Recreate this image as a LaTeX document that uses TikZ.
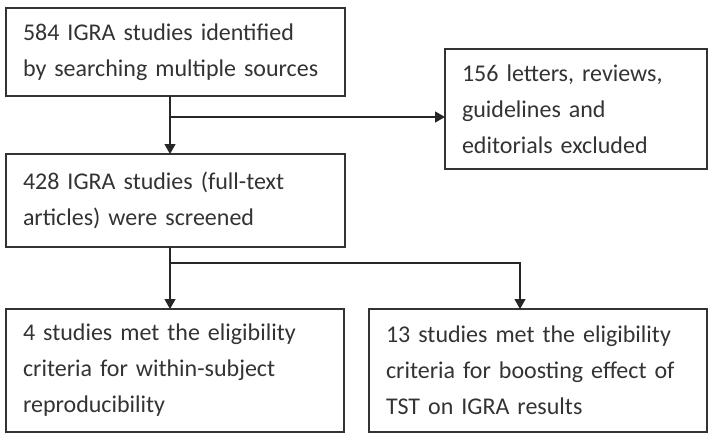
\documentclass[tikz,border=0pt]{standalone}
\usepackage{fontspec}
\setmainfont{Carlito}
\usetikzlibrary{arrows.meta, positioning, calc}

\begin{document}
\begin{tikzpicture}[
  x=1pt, y=-1pt,
  font=\fontsize{24}{36}\selectfont,
  riquadro/.style={draw=black!80, line width=1.3pt, anchor=north west, outer sep=0pt, inner xsep=17pt, inner ysep=0pt, align=left, text=black!80},
  filo/.style={draw=black!85, line width=1.3pt},
  freccia/.style={filo, -{Triangle[length=10pt, width=11pt]}}
]
\useasboundingbox (0,0) rectangle (719,436);

% Riquadri
\node[riquadro, minimum width=339pt, minimum height=88pt, text width=305pt] (trovati) at (6,8)
  {584 IGRA studies identified\\by searching multiple sources};
\node[riquadro, minimum width=262pt, minimum height=120pt, text width=228pt] (esclusi) at (445,49)
  {156 letters, reviews,\\guidelines and\\editorials excluded};
\node[riquadro, minimum width=339pt, minimum height=93pt, text width=305pt] (vagliati) at (6,154)
  {428 IGRA studies (full-text\\articles) were screened};
\node[riquadro, minimum width=338pt, minimum height=123pt, text width=304pt] (riprod) at (6,309)
  {4 studies met the eligibility\\criteria for within-subject\\reproducibility};
\node[riquadro, minimum width=338pt, minimum height=123pt, text width=304pt] (boost) at (369,309)
  {13 studies met the eligibility\\criteria for boosting effect of\\TST on IGRA results};

% Collegamenti
\coordinate (bivio1) at (170,117);
\coordinate (bivio2) at (170,263);
\coordinate (gomito) at (520,263);

\draw[freccia] (trovati.south -| bivio1) -- (vagliati.north -| bivio1);
\draw[freccia] (bivio1) -- (esclusi.west |- bivio1);
\draw[freccia] (vagliati.south -| bivio2) -- (riprod.north -| bivio2);
\draw[freccia] (bivio2) -- (gomito) -- (boost.north -| gomito);

\end{tikzpicture}
\end{document}
